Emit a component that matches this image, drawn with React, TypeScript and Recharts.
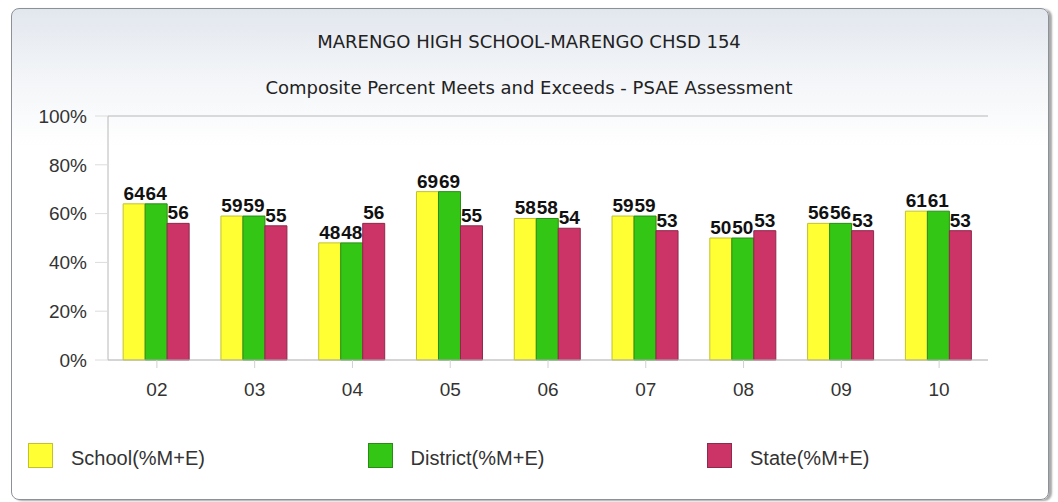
import { BarChart, Bar, XAxis, YAxis, CartesianGrid, ReferenceLine, LabelList, Legend } from 'recharts';

const years = ['02', '03', '04', '05', '06', '07', '08', '09', '10'];
const schoolPct = [64, 59, 48, 69, 58, 59, 50, 56, 61];
const districtPct = [64, 59, 48, 69, 58, 59, 50, 56, 61];
const statePct = [56, 55, 56, 55, 54, 53, 53, 53, 53];
const yTicks = [0, 20, 40, 60, 80, 100];

const seriesNames = ['School(%M+E)', 'District(%M+E)', 'State(%M+E)'];

const rows = years.map((y, i) => ({
  year: y,
  school: schoolPct[i],
  district: districtPct[i],
  state: statePct[i],
}));

const SANS = '"Liberation Sans", Arial, sans-serif';

// legend drawn as three evenly spaced swatches, kept in series order
const LegendBox = ({ payload }: any) => {
  const items = [...(payload || [])].sort(
    (a: any, b: any) => seriesNames.indexOf(a.value) - seriesNames.indexOf(b.value)
  );
  return (
    <div style={{ position: 'relative', width: 1058, height: 30 }}>
      {items.map((p: any, i: number) => (
        <div
          key={i}
          style={{ position: 'absolute', left: 28 + i * 339.5, top: 0, display: 'flex', alignItems: 'center', height: 30 }}
        >
          <span
            style={{
              display: 'inline-block', width: 25, height: 25, background: p.color,
              border: `1px solid ${p.payload.stroke}`, boxSizing: 'border-box', marginRight: 18,
            }}
          />
          <span style={{ fontFamily: SANS, fontSize: 20, color: '#333', position: 'relative', top: 3 }}>{p.value}</span>
        </div>
      ))}
    </div>
  );
};

export default function App() {
  return (
    <div style={{ position: 'absolute', left: 0, top: 0, width: 1058, height: 502, background: '#fff', overflow: 'hidden' }}>
      {/* card frame */}
      <div
        style={{
          position: 'absolute', left: 11, top: 8, width: 1036, height: 490,
          border: '1px solid #8c9198', borderRadius: 8,
          background: 'linear-gradient(180deg, #e2e7ee 0%, #f3f5f8 14%, #ffffff 28%)',
          boxShadow: '3px 1px 2px #a9a9a9',
        }}
      />
      <div style={{ position: 'absolute', left: 0, width: 1058, top: 32, lineHeight: '20px', textAlign: 'center', fontFamily: '"DejaVu Sans", sans-serif', fontSize: 18, color: '#222' }}>
        MARENGO HIGH SCHOOL-MARENGO CHSD 154
      </div>
      <div style={{ position: 'absolute', left: 0, width: 1058, top: 78, lineHeight: '20px', textAlign: 'center', fontFamily: '"DejaVu Sans", sans-serif', fontSize: 18, color: '#222' }}>
        Composite Percent Meets and Exceeds - PSAE Assessment
      </div>

      <div style={{ position: 'absolute', left: 0, top: 0 }}>
        <BarChart
          width={1058}
          height={502}
          data={rows}
          margin={{ top: 116, right: 70, bottom: 102, left: 8 }}
          barCategoryGap="15.5%"
          barGap={0}
        >
          <CartesianGrid vertical={false} stroke="#e2e2e2" />
          <XAxis
            dataKey="year"
            height={40}
            tickSize={8}
            tickMargin={15}
            tickLine={{ stroke: '#d0d0d0' }}
            axisLine={{ stroke: '#b8b8b8' }}
            tick={{ fill: '#333', fontSize: 19, fontFamily: SANS }}
          />
          <YAxis
            yAxisId="left"
            width={100}
            domain={[0, 100]}
            ticks={yTicks}
            interval={0}
            tickSize={13}
            tickMargin={8}
            tickLine={{ stroke: '#dcdcdc' }}
            axisLine={{ stroke: '#b8b8b8' }}
            tickFormatter={(v: number) => `${v}%`}
            tick={{ fill: '#333', fontSize: 19, fontFamily: SANS }}
          />
          <YAxis
            yAxisId="right"
            orientation="right"
            width={0}
            domain={[0, 100]}
            tick={false}
            tickLine={false}
            axisLine={{ stroke: '#c4c4c4' }}
          />
          <ReferenceLine yAxisId="left" y={100} stroke="#c4c4c4" />
          <Legend
            layout="horizontal"
            verticalAlign="middle"
            align="center"
            wrapperStyle={{ top: 440, left: 0, width: 1058 }}
            content={<LegendBox />}
          />
          <Bar yAxisId="left" dataKey="school" name={seriesNames[0]} fill="#ffff33" stroke="#c2c22a" strokeWidth={1} isAnimationActive={false}>
            <LabelList dataKey="school" position="top" offset={4} fill="#111" fontSize={19} fontWeight="bold" fontFamily={SANS} />
          </Bar>
          <Bar yAxisId="left" dataKey="district" name={seriesNames[1]} fill="#33c614" stroke="#2a8c16" strokeWidth={1} isAnimationActive={false}>
            <LabelList dataKey="district" position="top" offset={4} fill="#111" fontSize={19} fontWeight="bold" fontFamily={SANS} />
          </Bar>
          <Bar yAxisId="left" dataKey="state" name={seriesNames[2]} fill="#cc3366" stroke="#8e2a4c" strokeWidth={1} isAnimationActive={false}>
            <LabelList dataKey="state" position="top" offset={4} fill="#111" fontSize={19} fontWeight="bold" fontFamily={SANS} />
          </Bar>
        </BarChart>
      </div>
    </div>
  );
}
